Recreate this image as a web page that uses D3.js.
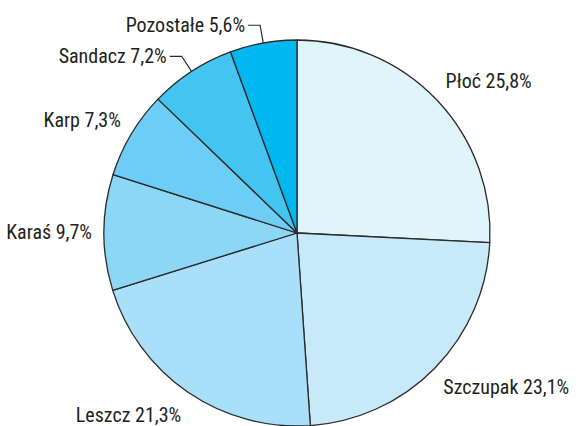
<!DOCTYPE html>
<html>
<head>
<meta charset="utf-8">
<script src="https://cdn.jsdelivr.net/npm/d3@7"></script>
<style>
  body { margin: 0; background: #fff; }
  text { font-family: "Liberation Sans Narrow", "Arial Narrow", "Roboto Condensed", sans-serif; fill: #231f20; }
</style>
</head>
<body>
<script>
// fish species share (percent), clockwise from the top
var species = ["Płoć", "Szczupak", "Leszcz", "Karaś", "Karp", "Sandacz", "Pozostałe"];
var shares = [25.8, 23.1, 21.3, 9.7, 7.3, 7.2, 5.6];
var labels = ["Płoć 25,8%", "Szczupak 23,1%", "Leszcz 21,3%", "Karaś 9,7%", "Karp 7,3%", "Sandacz 7,2%", "Pozostałe 5,6%"];

var width = 579, height = 426;
var cx = 297, cy = 233, radius = 193;

var color = d3.scaleOrdinal()
  .domain(species)
  .range(["#e0f4fc", "#c6eafa", "#a9dff9", "#8cd6f6", "#6ecdf4", "#44c4f1", "#00b7f0"]);

var svg = d3.select("body")
  .append("svg")
  .attr("width", width)
  .attr("height", height);

var g = svg.append("g").attr("transform", "translate(" + cx + "," + cy + ")");

var pie = d3.pie().sort(null).value(function(d) { return d.value; });
var arcs = pie(species.map(function(s, i) { return { name: s, value: shares[i], label: labels[i] }; }));

var arc = d3.arc().innerRadius(0).outerRadius(radius);

g.selectAll("path.slice")
  .data(arcs)
  .enter()
  .append("path")
  .attr("class", "slice")
  .attr("d", arc)
  .attr("fill", function(d) { return color(d.data.name); })
  .attr("stroke", "#2b2b2b")
  .attr("stroke-width", 1.3)
  .attr("stroke-linejoin", "round");

function midAngle(d) { return (d.startAngle + d.endAngle) / 2; }
function polar(a, r) { return [r * Math.sin(a), -r * Math.cos(a)]; }

// small slices at the top-left get a leader line, the rest sit on an ellipse round the pie
var useLeader = function(d) { return midAngle(d) > Math.PI * 1.75; };

arcs.forEach(function(d) {
  var a = midAngle(d);
  if (useLeader(d)) {
    var p0 = polar(a, radius);
    var p1 = polar(a, radius + 18);
    var p2 = [p1[0] - 12, p1[1]];
    g.append("polyline")
      .attr("points", [p0, p1, p2].map(function(p) { return p.join(","); }).join(" "))
      .attr("fill", "none")
      .attr("stroke", "#2b2b2b")
      .attr("stroke-width", 1.2);
    g.append("text")
      .attr("x", p2[0] - 3)
      .attr("y", p2[1])
      .attr("dy", "0.35em")
      .attr("text-anchor", "end")
      .style("font-size", "20px")
      .text(d.data.label);
  } else {
    var x = (radius + 12) * Math.sin(a);
    var y = -(radius + 27) * Math.cos(a);
    g.append("text")
      .attr("x", x)
      .attr("y", y)
      .attr("dy", "0.35em")
      .attr("text-anchor", x >= 0 ? "start" : "end")
      .style("font-size", "20px")
      .text(d.data.label);
  }
});
</script>
</body>
</html>
